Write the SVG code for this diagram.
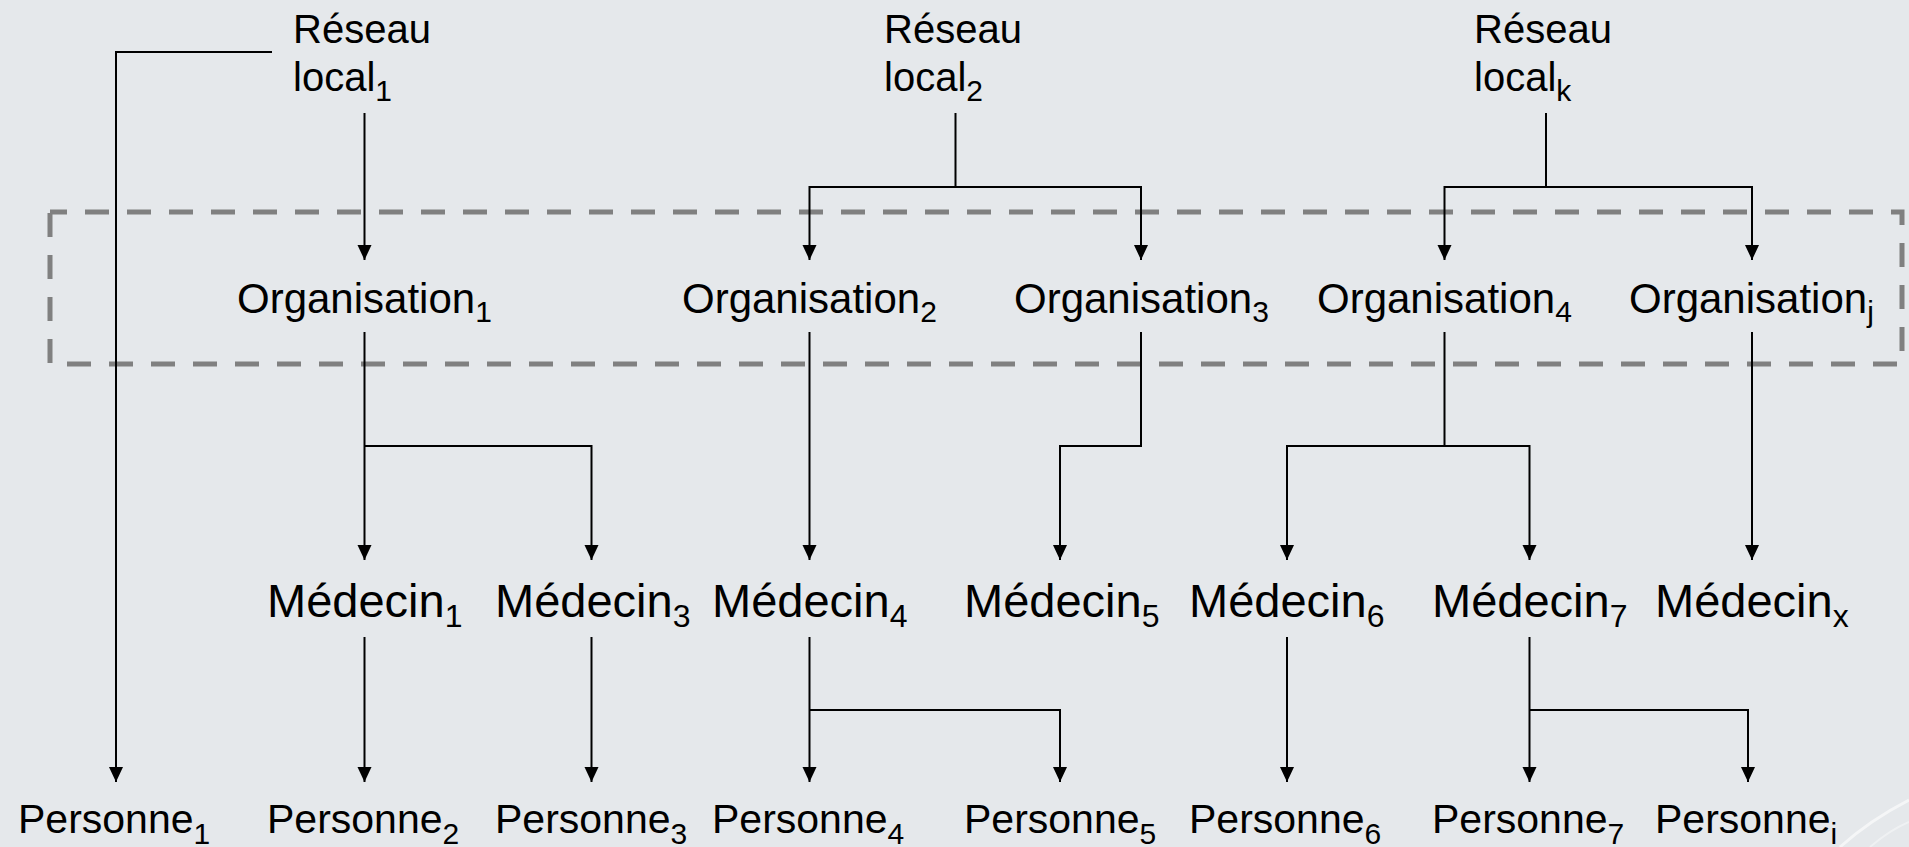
<svg xmlns="http://www.w3.org/2000/svg" width="1909" height="847" viewBox="0 0 1909 847">
<defs>
<style>
.t{font-family:"Liberation Sans",Arial,sans-serif;fill:#000}
.rl{font-size:40px}
.org{font-size:42px}
.med{font-size:47px}
.per{font-size:41px}
.s{font-size:30px}
.sm{font-size:32px}
.c{fill:none;stroke:#000;stroke-width:2;marker-end:url(#ah)}
</style>
<marker id="ah" markerUnits="userSpaceOnUse" markerWidth="16" markerHeight="16" viewBox="0 0 16 16" refX="15" refY="7" orient="auto">
<path d="M0,0 L15,7 L0,14 Z" fill="#000"/>
</marker>
</defs>
<rect width="1909" height="847" fill="#E5E8EB"/>
<path d="M1840,847 Q1870,820 1909,800" fill="none" stroke="#ffffff" stroke-opacity="0.6" stroke-width="3"/>
<path d="M1870,847 Q1890,830 1909,822" fill="none" stroke="#ffffff" stroke-opacity="0.4" stroke-width="2"/>
<rect id="zone" x="50" y="212" width="1852" height="152" fill="none" stroke="#808080" stroke-width="5" stroke-dasharray="24 18" stroke-dashoffset="7"/>
<g id="connectors">
<path class="c" d="M364.5,113 V260"/>
<path class="c" d="M272,52 H116 V782"/>
<path class="c" d="M364.5,332 V560"/>
<path class="c" d="M364.5,446 H591.5 V560"/>
<path class="c" d="M364.5,637 V782"/>
<path class="c" d="M591.5,637 V782"/>
<path class="c" d="M955.5,113 V187 H809.5 V260"/>
<path class="c" d="M955.5,187 H1141 V260"/>
<path class="c" d="M809.5,332 V560"/>
<path class="c" d="M1141,332 V446 H1060 V560"/>
<path class="c" d="M809.5,637 V782"/>
<path class="c" d="M809.5,710 H1060 V782"/>
<path class="c" d="M1546,113 V187 H1444.5 V260"/>
<path class="c" d="M1546,187 H1752 V260"/>
<path class="c" d="M1444.5,332 V446 H1287 V560"/>
<path class="c" d="M1444.5,446 H1529.5 V560"/>
<path class="c" d="M1752,332 V560"/>
<path class="c" d="M1287,637 V782"/>
<path class="c" d="M1529.5,637 V782"/>
<path class="c" d="M1529.5,710 H1748 V782"/>
</g>
<g id="reseau1"><text class="t rl" x="293" y="43">Réseau</text><text class="t rl" x="293" y="91">local<tspan class="s" dy="10">1</tspan></text></g>
<g id="reseau2"><text class="t rl" x="884" y="43">Réseau</text><text class="t rl" x="884" y="91">local<tspan class="s" dy="10">2</tspan></text></g>
<g id="reseauk"><text class="t rl" x="1474" y="43">Réseau</text><text class="t rl" x="1474" y="91">local<tspan class="s" dy="10">k</tspan></text></g>
<g id="org1"><text class="t org" x="237" y="313">Organisation<tspan class="s" dy="9">1</tspan></text></g>
<g id="org2"><text class="t org" x="682" y="313">Organisation<tspan class="s" dy="9">2</tspan></text></g>
<g id="org3"><text class="t org" x="1014" y="313">Organisation<tspan class="s" dy="9">3</tspan></text></g>
<g id="org4"><text class="t org" x="1317" y="313">Organisation<tspan class="s" dy="9">4</tspan></text></g>
<g id="orgj"><text class="t org" x="1629" y="313">Organisation<tspan class="s" dy="9">j</tspan></text></g>
<g id="med1"><text class="t med" x="267" y="617">Médecin<tspan class="sm" dy="10">1</tspan></text></g>
<g id="med3"><text class="t med" x="495" y="617">Médecin<tspan class="sm" dy="10">3</tspan></text></g>
<g id="med4"><text class="t med" x="712" y="617">Médecin<tspan class="sm" dy="10">4</tspan></text></g>
<g id="med5"><text class="t med" x="964" y="617">Médecin<tspan class="sm" dy="10">5</tspan></text></g>
<g id="med6"><text class="t med" x="1189" y="617">Médecin<tspan class="sm" dy="10">6</tspan></text></g>
<g id="med7"><text class="t med" x="1432" y="617">Médecin<tspan class="sm" dy="10">7</tspan></text></g>
<g id="medx"><text class="t med" x="1655" y="617">Médecin<tspan class="sm" dy="10">x</tspan></text></g>
<g id="pers1"><text class="t per" x="18" y="833">Personne<tspan class="s" dy="11">1</tspan></text></g>
<g id="pers2"><text class="t per" x="267" y="833">Personne<tspan class="s" dy="11">2</tspan></text></g>
<g id="pers3"><text class="t per" x="495" y="833">Personne<tspan class="s" dy="11">3</tspan></text></g>
<g id="pers4"><text class="t per" x="712" y="833">Personne<tspan class="s" dy="11">4</tspan></text></g>
<g id="pers5"><text class="t per" x="964" y="833">Personne<tspan class="s" dy="11">5</tspan></text></g>
<g id="pers6"><text class="t per" x="1189" y="833">Personne<tspan class="s" dy="11">6</tspan></text></g>
<g id="pers7"><text class="t per" x="1432" y="833">Personne<tspan class="s" dy="11">7</tspan></text></g>
<g id="persi"><text class="t per" x="1655" y="833">Personne<tspan class="s" dy="11">i</tspan></text></g>
</svg>
